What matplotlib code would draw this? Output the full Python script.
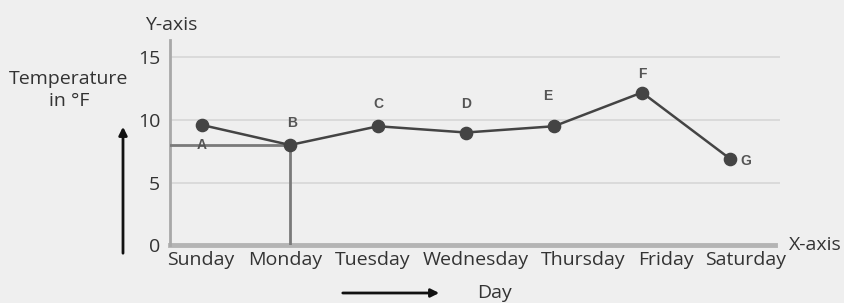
import matplotlib.pyplot as plt

days = ['Sunday', 'Monday', 'Tuesday', 'Wednesday', 'Thursday', 'Friday', 'Saturday']
temps = [9.6, 8.0, 9.5, 9.0, 9.5, 12.2, 6.9]
point_names = ['A', 'B', 'C', 'D', 'E', 'F', 'G']
y_ticks = [0, 5, 10, 15]

# tick labels sit as a row of text, a little off the points
label_pos = [-0.02, 0.95, 1.94, 3.11, 4.33, 5.27, 6.18]
# (dx in px, dy in px) for each point letter
name_offsets = [(0, -20), (2, 22), (0, 22), (0, 28), (-6, 30), (0, 19), (16, -2)]

bg = '#efefef'
plt.rcParams['font.family'] = ['Open Sans', 'DejaVu Sans']

fig = plt.figure(figsize=(8.45, 3.03), dpi=100, facecolor=bg)
ax = fig.add_axes([170 / 845, 1 - 245 / 303, 610 / 845, 205 / 303], facecolor=bg)

x = list(range(len(days)))
ax.set_xlim(-0.364, 6.568)
ax.set_ylim(0, 16.4)

for s in ax.spines.values():
    s.set_visible(False)

# grid
for t in y_ticks[1:]:
    ax.axhline(t, color='#d6d6d6', lw=1.2, zorder=1)

# axes lines
ax.axhline(0, xmin=0, xmax=605 / 610, color='#b4b4b4', lw=3.5, zorder=2, clip_on=False)
ax.axvline(-0.364, color='#a8a8a8', lw=2, zorder=2, clip_on=False)

# reading lines to Monday
ax.plot([-0.364, x[1]], [temps[1], temps[1]], color='#7a7a7a', lw=2, zorder=3)
ax.plot([x[1], x[1]], [0, temps[1]], color='#7a7a7a', lw=2, zorder=3)

ax.plot(x, temps, color='#444444', lw=1.8, marker='o', markersize=8.8, zorder=4)

for i, name in enumerate(point_names):
    dx, dy = name_offsets[i]
    ax.annotate(name, (x[i], temps[i]), xytext=(dx * 0.72, dy * 0.72), textcoords='offset points',
                ha='center', va='center', fontsize=10, fontweight='bold', color='#555555',
                family='Liberation Sans', zorder=5)

ax.set_yticks(y_ticks)
ax.set_yticklabels([str(t) for t in y_ticks], fontsize=14, color='#333333')
ax.tick_params(axis='y', length=0, pad=7)
ax.set_xticks(label_pos)
ax.set_xticklabels(days, fontsize=14, color='#333333')
ax.tick_params(axis='x', length=0, pad=4)

fig.text(171 / 845, 1 - 25 / 303, 'Y-axis', ha='center', va='center', fontsize=14, color='#333333')
fig.text(69 / 845, 1 - 90 / 303, 'Temperature\nin °F', ha='center', va='center', fontsize=14,
         color='#333333', linespacing=1.35)
fig.text(789 / 845, 1 - 245 / 303, 'X-axis', ha='left', va='center', fontsize=14, color='#333333')
fig.text(495 / 845, 1 - 293 / 303, 'Day', ha='center', va='center', fontsize=14, color='#333333')

# arrows
fig.add_artist(plt.Annotation('', xy=(123 / 845, 1 - 124 / 303), xytext=(123 / 845, 1 - 256 / 303),
                              xycoords='figure fraction',
                              arrowprops=dict(arrowstyle='-|>', color='#111111', lw=2, mutation_scale=12)))
fig.add_artist(plt.Annotation('', xy=(442 / 845, 1 - 293 / 303), xytext=(340 / 845, 1 - 293 / 303),
                              xycoords='figure fraction',
                              arrowprops=dict(arrowstyle='-|>', color='#111111', lw=2, mutation_scale=12)))

fig.savefig('out.png', dpi=100, facecolor=bg)
